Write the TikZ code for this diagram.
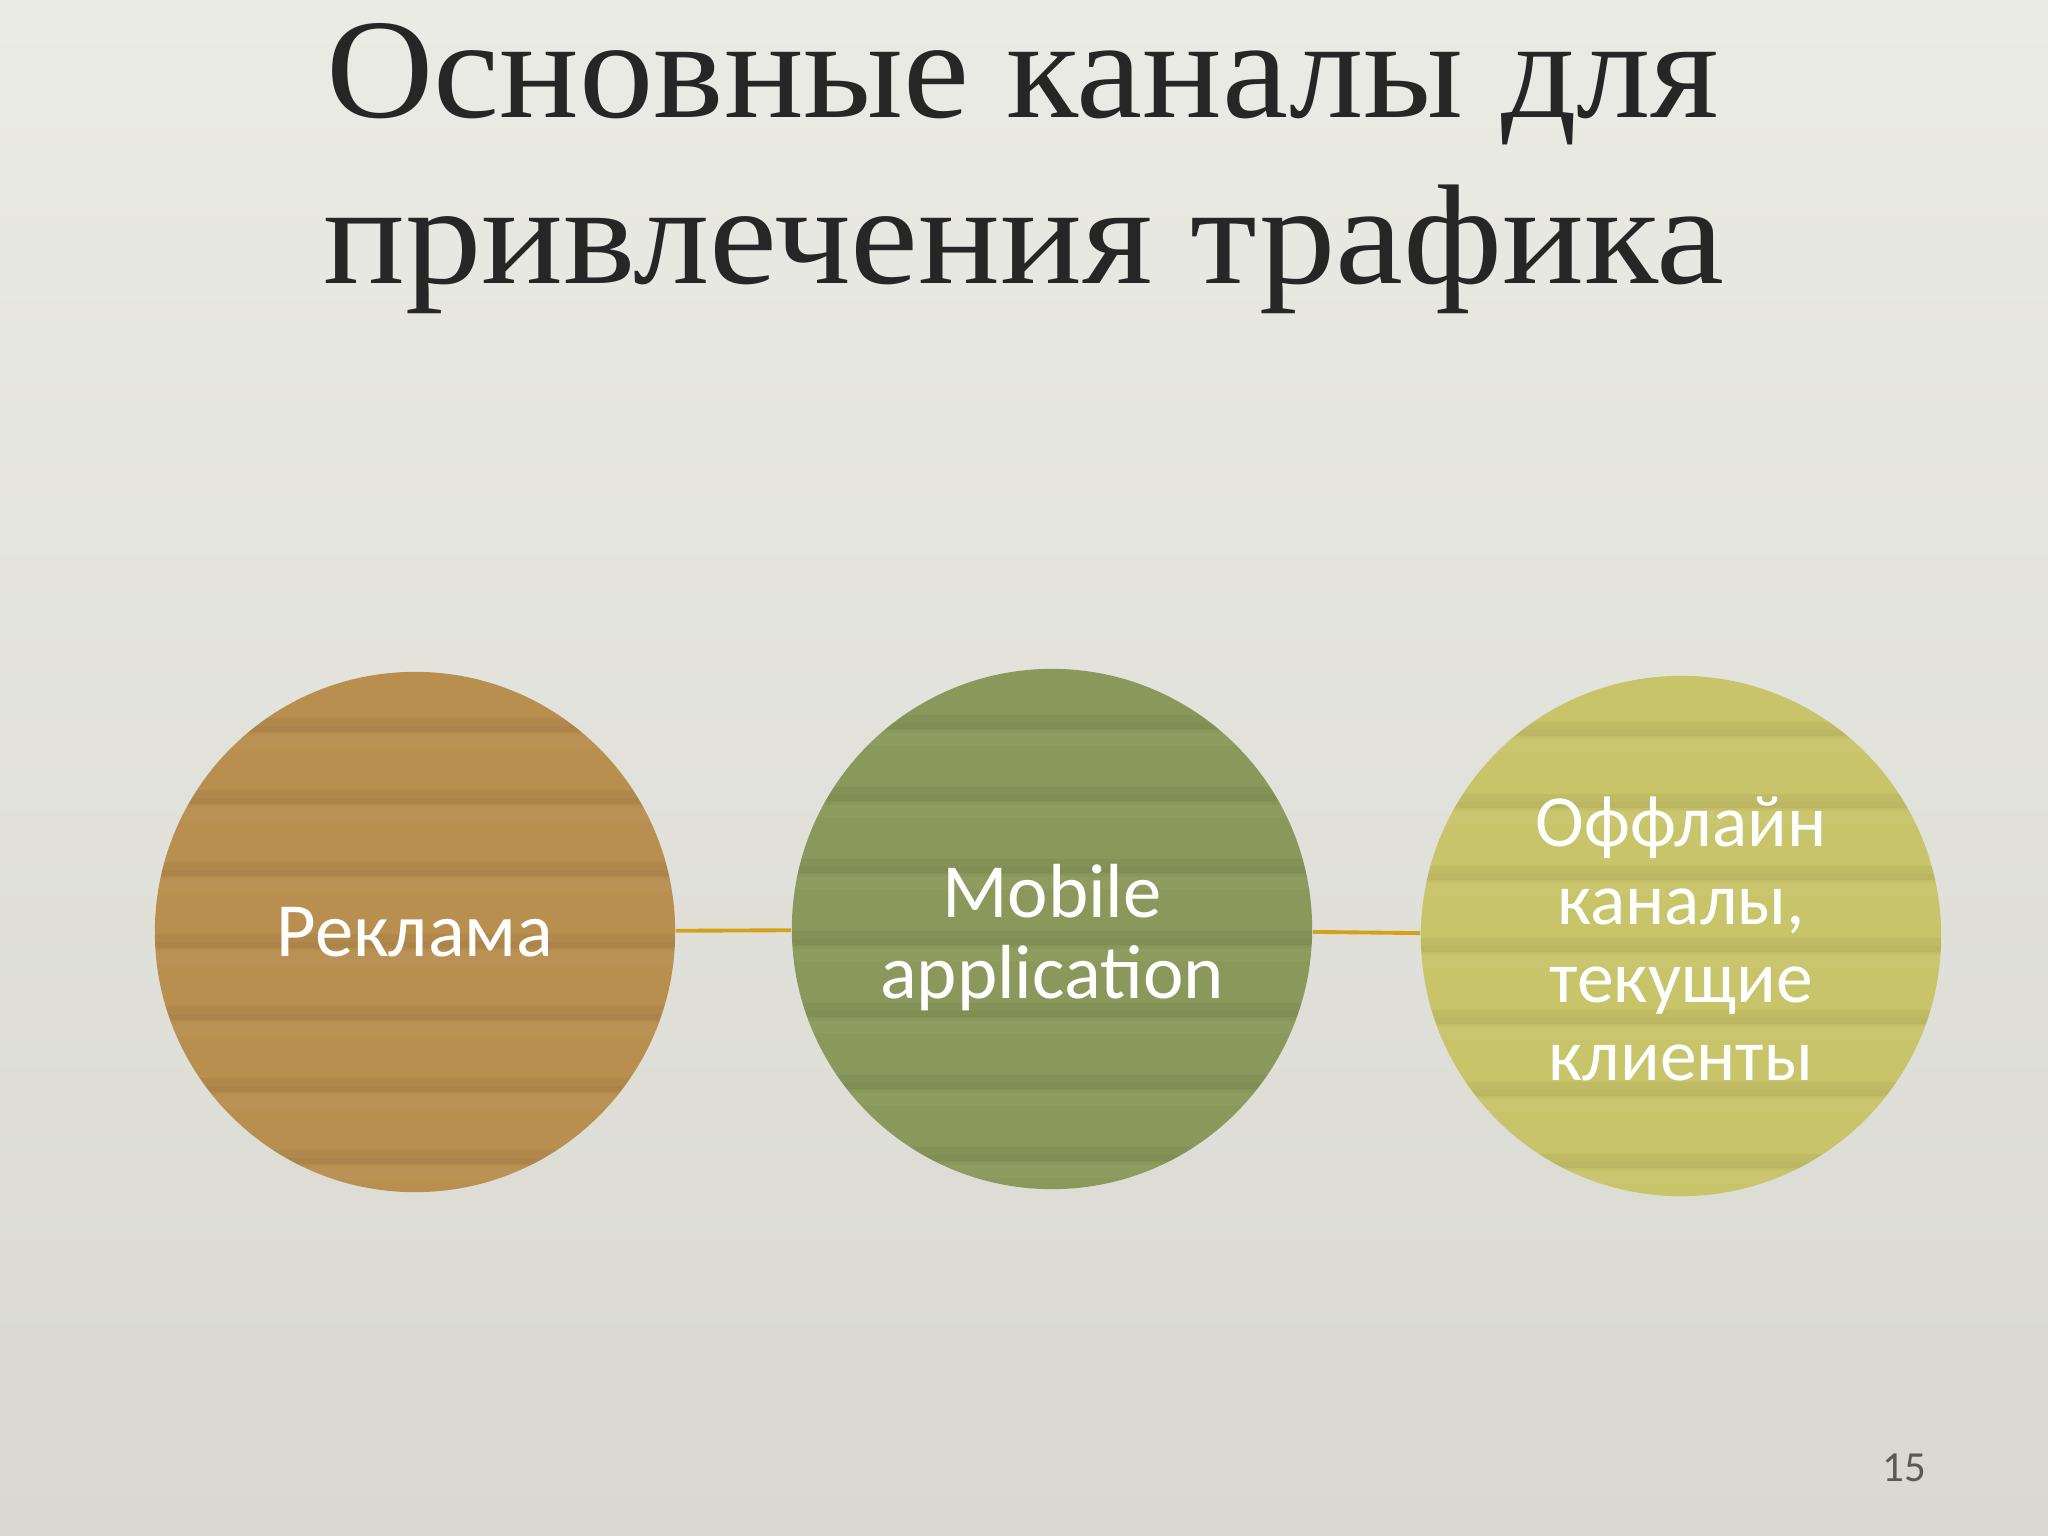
\documentclass[tikz,border=0pt]{standalone}
\usepackage{fontspec}
\setmainfont{Carlito}
\newfontfamily\titlefont{Liberation Serif}
\definecolor{bgtop}{HTML}{EAEBE4}
\definecolor{bgbot}{HTML}{D9D9D2}
\definecolor{cA}{HTML}{B98F4F}
\definecolor{cB}{HTML}{8A995B}
\definecolor{cC}{HTML}{C8C46A}
\definecolor{lineC}{HTML}{D4A21A}
\definecolor{titleC}{HTML}{262626}
\definecolor{numC}{HTML}{595959}
\tikzset{
  circ/.style={circle,inner sep=0pt,minimum size=5.2cm},
  lab/.style={text=white,align=center,font=\fontsize{21.8}{23}\selectfont},
  conn/.style={draw=lineC,line width=1.1pt},
  ttl/.style={text=titleC,anchor=base,inner sep=0pt,font=\titlefont\fontsize{40.4}{47}\selectfont}
}
\begin{document}
\begin{tikzpicture}[x=0.01cm,y=-0.01cm]
\shade[top color=bgtop,bottom color=bgbot] (0,0) rectangle (2048,1536);
\useasboundingbox (0,0) rectangle (2048,1536);
% title
\node[ttl] (t1) at (1023,117) {\resizebox{13.92cm}{\height}{Основные каналы для}};
\node[ttl] (t2) at (1024,283) {\resizebox{14.0cm}{\height}{привлечения трафика}};
% circles
\node[circ,fill=cA] (c1) at (415,932) {};
\node[circ,fill=cB] (c2) at (1052,929) {};
\node[circ,fill=cC] (c3) at (1681,936) {};
% stripe texture
\foreach \cc in {c1,c2,c3}{
  \begin{scope}
    \clip (\cc.center) circle[radius=2.6cm];
    \foreach \k in {-3,...,3}{
      \fill[black,opacity=0.045] ([yshift=-\k*0.72cm-0.02cm]\cc.center) ++(-270,0) rectangle ++(540,14);
      \fill[black,opacity=0.025] ([yshift=-\k*0.72cm-0.1cm]\cc.center) ++(-270,0) rectangle ++(540,8);
      \fill[white,opacity=0.035] ([yshift=-\k*0.72cm-0.2cm]\cc.center) ++(-270,0) rectangle ++(540,12);
    }
  \end{scope}
}
% connectors
\draw[conn] (c1) -- (c2);
\draw[conn] (c2) -- (c3);
% labels
\node[lab,font=\fontsize{21.8}{23.05}\selectfont] (l1) at (c1.center) {Реклама};
\node[lab,font=\fontsize{21.8}{23.05}\selectfont] (l2) at ([yshift=-0.09cm]c2.center) {Mobile\\application};
\node[lab,font=\fontsize{20.9}{22.2}\selectfont] (l3) at ([yshift=-0.03cm]c3.center) {Оффлайн\\каналы,\\текущие\\клиенты};
% page number
\node[text=numC,font=\fontsize{12.2}{14}\selectfont] (pn) at (1904,1468) {15};
\end{tikzpicture}
\end{document}
